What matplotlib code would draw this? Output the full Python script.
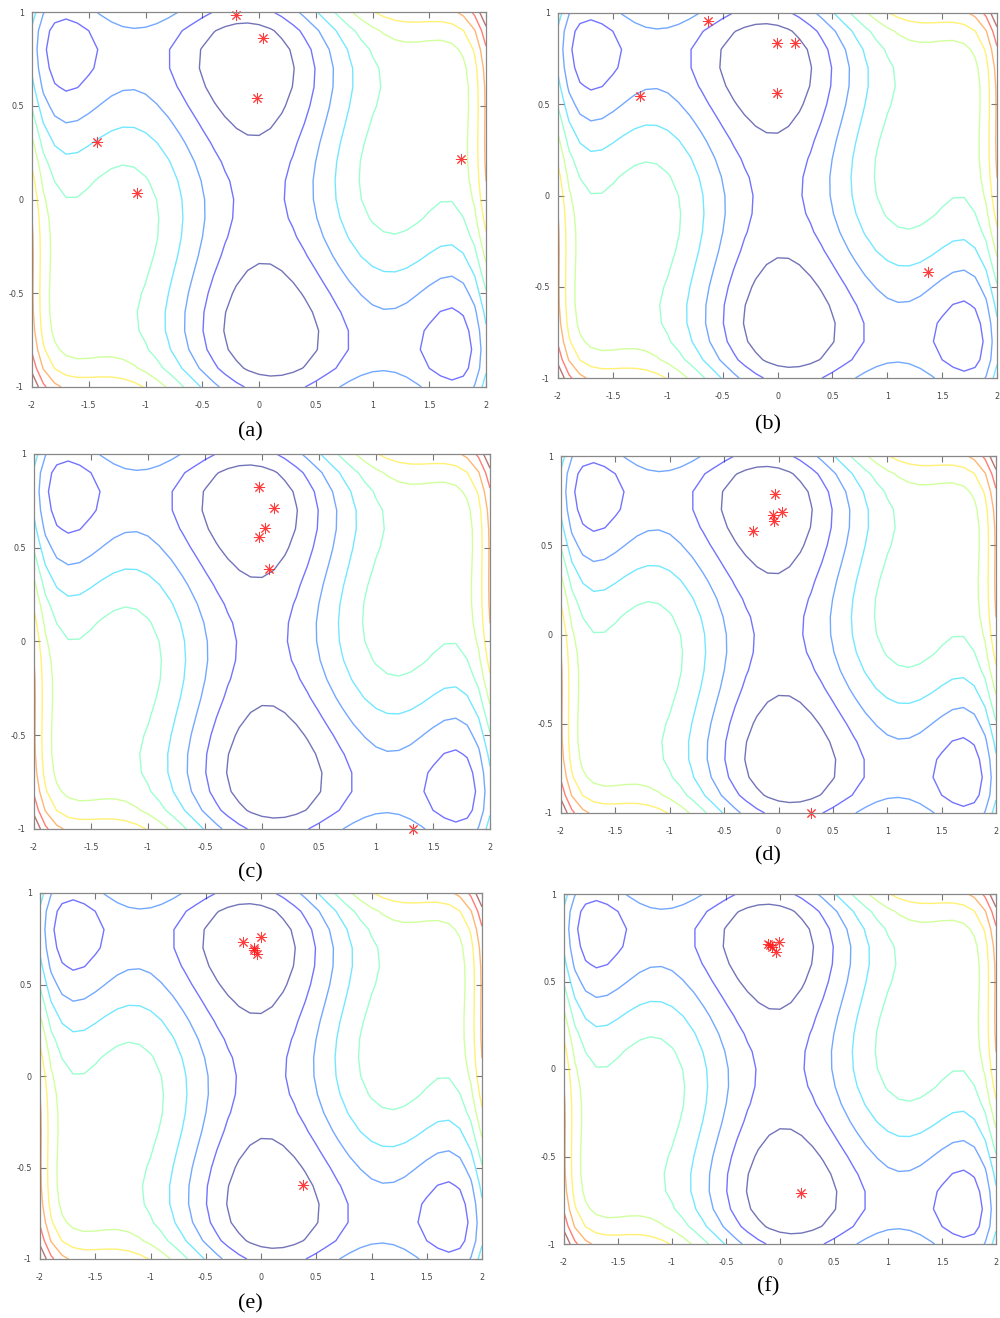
import numpy as np
import matplotlib
matplotlib.use("Agg")
import matplotlib.pyplot as plt

# Six-hump camel function sampled on a 0.1 grid
grid_x = np.arange(-2.0, 2.0001, 0.1)
grid_y = np.arange(-1.0, 1.0001, 0.1)
X, Y = np.meshgrid(grid_x, grid_y)
Z = (4 - 2.1 * X**2 + X**4 / 3) * X**2 + X * Y + (-4 + 4 * Y**2) * Y**2

# ten evenly spaced contour levels between the grid min and max
n_levels = 10
levels = np.linspace(Z.min(), Z.max(), n_levels + 2)[1:-1]

# population positions at each stage
pop_a_x = [-0.203, 0.038, -0.015, -1.424, -1.072, 1.783]
pop_a_y = [0.982, 0.863, 0.541, 0.308, 0.036, 0.216]

pop_b_x = [-0.634, -0.005, 0.163, -0.005, -1.255, 1.367]
pop_b_y = [0.956, 0.833, 0.833, 0.559, 0.543, -0.418]

pop_c_x = [-0.028, 0.101, 0.022, -0.022, 0.063, 1.321]
pop_c_y = [0.824, 0.712, 0.604, 0.559, 0.388, -1.0]

pop_d_x = [-0.031, -0.055, 0.034, -0.043, -0.239, 0.298]
pop_d_y = [0.789, 0.670, 0.689, 0.638, 0.579, -1.0]

pop_e_x = [-0.160, -0.066, 0.003, -0.036, -0.060, 0.378]
pop_e_y = [0.732, 0.699, 0.759, 0.668, 0.690, -0.597]

pop_f_x = [-0.097, -0.076, -0.011, -0.036, -0.110, 0.190]
pop_f_y = [0.707, 0.695, 0.728, 0.669, 0.714, -0.709]

panel_labels = ["(a)", "(b)", "(c)", "(d)", "(e)", "(f)"]
x_ticks = [-2, -1.5, -1, -0.5, 0, 0.5, 1, 1.5, 2]
y_ticks = [-1, -0.5, 0, 0.5, 1]
x_tick_labels = ["-2", "-1.5", "-1", "-0.5", "0", "0.5", "1", "1.5", "2"]
y_tick_labels = ["-1", "-0.5", "0", "0.5", "1"]

W, H = 1000, 1318
fig = plt.figure(figsize=(W / 100, H / 100), dpi=100)

# axes boxes in pixels: left, right, top, bottom ; label centre (x, y)
boxes = [
    (32, 486, 12, 387, 250, 432),
    (558, 997, 13, 378, 768, 425),
    (34, 490, 454, 829, 250, 873),
    (561, 996, 456, 813, 768, 856),
    (40, 482, 893, 1259, 250, 1304),
    (564, 996, 894, 1244, 768, 1287),
]
pops = [(pop_a_x, pop_a_y), (pop_b_x, pop_b_y), (pop_c_x, pop_c_y),
        (pop_d_x, pop_d_y), (pop_e_x, pop_e_y), (pop_f_x, pop_f_y)]

cmap = plt.get_cmap("jet")
line_colors = [cmap(i / (n_levels - 1)) for i in range(n_levels)]

for (l, r, t, b, lx, ly), (px, py), lab in zip(boxes, pops, panel_labels):
    ax = fig.add_axes([l / W, 1 - b / H, (r - l) / W, (b - t) / H])
    ax.contour(X, Y, Z, levels=levels, colors=line_colors,
               linewidths=1.0, alpha=0.55)
    ax.plot(px, py, linestyle="none", marker=(8, 2, 0), markersize=8,
            markeredgewidth=0.7, color="#ff1a1a", alpha=0.85, clip_on=False)
    ax.set_xlim(-2, 2)
    ax.set_ylim(-1, 1)
    ax.set_xticks(x_ticks)
    ax.set_xticklabels(x_tick_labels)
    ax.set_yticks(y_ticks)
    ax.set_yticklabels(y_tick_labels)
    ax.tick_params(direction="in", top=True, right=True, length=4,
                   width=0.8, color="#777777", labelsize=5.8,
                   labelcolor="#444444")
    ax.tick_params(axis="x", pad=10)
    ax.tick_params(axis="y", pad=6)
    for s in ax.spines.values():
        s.set_color("#888888")
        s.set_linewidth(0.9)
    fig.text(lx / W, 1 - ly / H, lab, ha="center", va="center",
             fontsize=16, family="Liberation Serif")

fig.savefig("out.png", dpi=100)
